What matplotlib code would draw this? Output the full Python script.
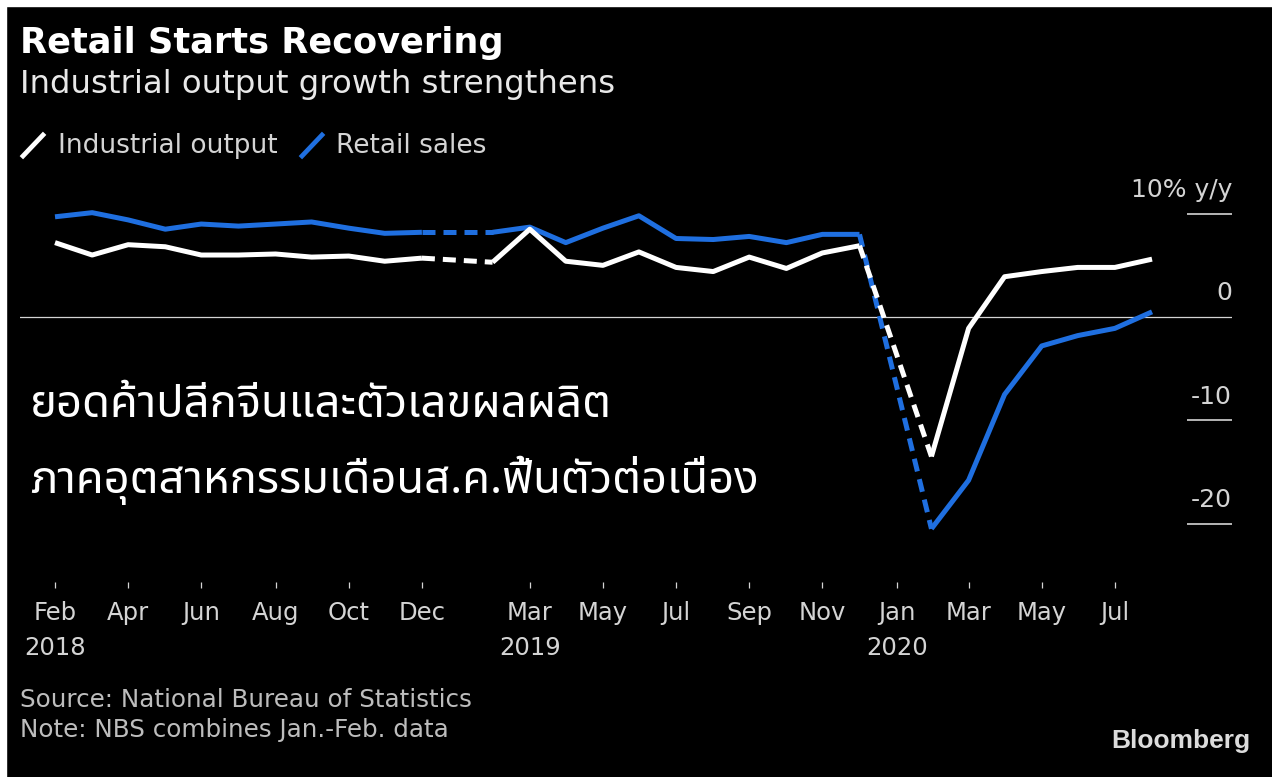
import pandas as pd
import matplotlib.pyplot as plt
import matplotlib.dates as mdates
from matplotlib.lines import Line2D
from matplotlib.patches import Rectangle

# NBS combines Jan-Feb, so January is missing every year
months = ["2018-02", "2018-03", "2018-04", "2018-05", "2018-06", "2018-07",
          "2018-08", "2018-09", "2018-10", "2018-11", "2018-12",
          "2019-02", "2019-03", "2019-04", "2019-05", "2019-06", "2019-07",
          "2019-08", "2019-09", "2019-10", "2019-11", "2019-12",
          "2020-02", "2020-03", "2020-04", "2020-05", "2020-06", "2020-07",
          "2020-08"]
industrial = [7.2, 6.0, 7.0, 6.8, 6.0, 6.0, 6.1, 5.8, 5.9, 5.4, 5.7,
              5.3, 8.5, 5.4, 5.0, 6.3, 4.8, 4.4, 5.8, 4.7, 6.2, 6.9,
              -13.5, -1.1, 3.9, 4.4, 4.8, 4.8, 5.6]
retail = [9.7, 10.1, 9.4, 8.5, 9.0, 8.8, 9.0, 9.2, 8.6, 8.1, 8.2,
          8.2, 8.7, 7.2, 8.6, 9.8, 7.6, 7.5, 7.8, 7.2, 8.0, 8.0,
          -20.5, -15.8, -7.5, -2.8, -1.8, -1.1, 0.5]

tick_months = ["2018-02", "2018-04", "2018-06", "2018-08", "2018-10", "2018-12",
               "2019-03", "2019-05", "2019-07", "2019-09", "2019-11",
               "2020-01", "2020-03", "2020-05", "2020-07"]
tick_labels = ["Feb\n2018", "Apr", "Jun", "Aug", "Oct", "Dec",
               "Mar\n2019", "May", "Jul", "Sep", "Nov",
               "Jan\n2020", "Mar", "May", "Jul"]
y_ticks = [10, 0, -10, -20]
y_labels = ["10% y/y", "0", "-10", "-20"]

title = "Retail Starts Recovering"
subtitle = "Industrial output growth strengthens"
thai_lines = ["ยอดค้าปลีกจีนและตัวเลขผลผลิต", "ภาคอุตสาหกรรมเดือนส.ค.ฟื้นตัวต่อเนื่อง"]
thai_fonts = ["Noto Sans Thai", "Noto Sans Thai Looped", "Loma", "Garuda",
              "Waree", "Kinnari", "FreeSans", "Noto Sans", "DejaVu Sans"]

BG = "black"
WHITE = "white"
BLUE = "#1f6fe0"
GREY = "#d4d4d4"

dates = pd.to_datetime(months) + pd.offsets.MonthEnd(0)
tick_dates = pd.to_datetime(tick_months) + pd.offsets.MonthEnd(0)

plt.rcParams["font.family"] = "DejaVu Sans"

fig = plt.figure(figsize=(12.72, 7.77), dpi=100, facecolor=BG)
ax = fig.add_axes([20 / 1272, 1 - 582 / 777, 1212 / 1272, 412 / 777])
ax.set_facecolor(BG)


def draw(values, color, z):
    s = pd.Series(values, index=dates)
    run_id = (s.index.to_series().diff().dt.days > 40).cumsum().values
    prev = None
    for _, run in s.groupby(run_id):
        ax.plot(run.index, run.values, color=color, lw=3.6,
                solid_joinstyle="round", solid_capstyle="butt", zorder=z)
        if prev is not None:
            ax.plot([prev.index[-1], run.index[0]], [prev.iloc[-1], run.iloc[0]],
                    color=color, lw=3.6, dashes=(2.6, 1.6),
                    dash_capstyle="butt", zorder=z)
        prev = run


draw(retail, BLUE, 3)
draw(industrial, WHITE, 4)

start = mdates.date2num(dates[0])
ax.set_xlim(start - 29.2, start + 981.7)
ax.set_ylim(-25.65, 14.23)

ax.axhline(0, color=GREY, lw=0.9, zorder=1)
for v, lab in zip(y_ticks, y_labels):
    if v != 0:
        ax.hlines(v, 0.963, 1.0, transform=ax.get_yaxis_transform(),
                  color=GREY, lw=1.2)
    ax.annotate(lab, xy=(1, v), xycoords=("axes fraction", "data"),
                xytext=(0, 12), textcoords="offset points",
                ha="right", va="baseline", fontsize=18, color=GREY)

for sp in ax.spines.values():
    sp.set_visible(False)
ax.set_yticks([])
ax.set_xticks(tick_dates)
ax.set_xticklabels(tick_labels)
ax.tick_params(axis="x", length=4.5, width=0.9, color=GREY, pad=9,
               labelsize=17.5, labelcolor=GREY)
for t in ax.get_xticklabels():
    t.set_linespacing(1.6)

fig.text(20 / 1272, 1 - 43 / 777, title, fontsize=25.3, weight="bold",
         color=WHITE, va="center")
fig.text(20 / 1272, 1 - 84 / 777, subtitle, fontsize=23.3, color="#e8e8e8",
         va="center")

# legend
fig.add_artist(Line2D([23 / 1272, 43 / 1272], [1 - 156 / 777, 1 - 135 / 777],
                      color=WHITE, lw=3.4))
fig.text(58 / 1272, 1 - 146 / 777, "Industrial output", fontsize=19,
         color=GREY, va="center")
fig.add_artist(Line2D([302 / 1272, 322 / 1272], [1 - 156 / 777, 1 - 135 / 777],
                      color=BLUE, lw=3.4))
fig.text(336 / 1272, 1 - 146 / 777, "Retail sales", fontsize=19,
         color=GREY, va="center")

for i, line in enumerate(thai_lines):
    fig.text(30 / 1272, 1 - (405 + 75 * i) / 777, line, fontsize=32.7,
             color=WHITE, va="center", family=thai_fonts)

fig.text(20 / 1272, 1 - 700 / 777, "Source: National Bureau of Statistics",
         fontsize=17.7, color="#bdbdbd", va="center")
fig.text(20 / 1272, 1 - 730 / 777, "Note: NBS combines Jan.-Feb. data",
         fontsize=17.7, color="#bdbdbd", va="center")
fig.text(1250 / 1272, 1 - 741 / 777, "Bloomberg", fontsize=19, weight="bold",
         color="#dcdcdc", va="center", ha="right", family="Liberation Sans")

# thin white border at the top and left of the original image
fig.add_artist(Rectangle((0, 1 - 6 / 777), 1, 6 / 777, transform=fig.transFigure,
                         color=WHITE, zorder=10))
fig.add_artist(Rectangle((0, 0), 6 / 1272, 1, transform=fig.transFigure,
                         color=WHITE, zorder=10))

fig.savefig("out.png", dpi=100, facecolor=BG)
